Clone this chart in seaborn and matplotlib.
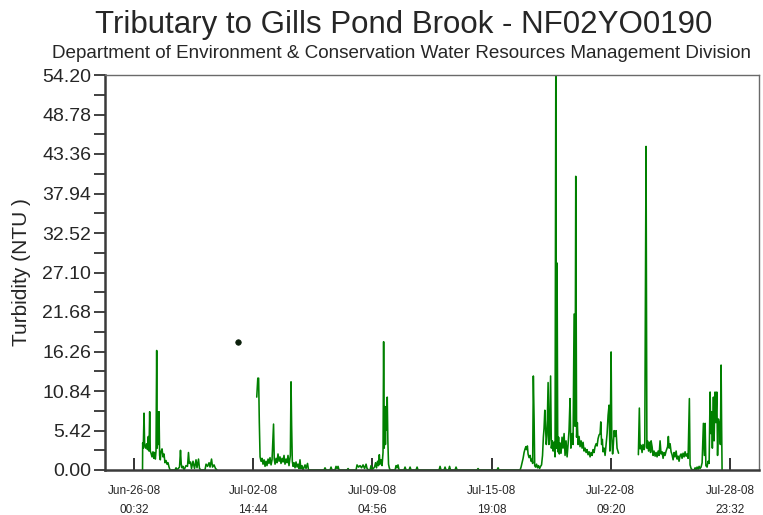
import numpy as np
import pandas as pd
import matplotlib
matplotlib.use("Agg")
import matplotlib.pyplot as plt
import seaborn as sns

# Station NF02YO0190 turbidity log; times are hours after Jun-26-08 00:32
START = pd.Timestamp("2008-06-26 00:32")

# First deployment block (late June)
hours_a = [11.3, 11.5, 12.3, 13.3, 14.1, 15.3, 16.6, 17.9, 19.0, 19.9, 20.8, 21.6,
           22.6, 23.9, 25.2, 26.3, 27.2, 28.3, 29.2, 30.1, 30.8, 31.3, 31.8, 32.3,
           32.8, 33.2, 34.0, 34.9, 35.8, 37.2, 38.5, 39.8, 41.1, 42.5, 43.8, 45.1,
           46.5, 47.8, 54.4, 55.8, 57.1, 60.4, 61.7, 62.7, 63.7, 65.0, 66.4, 69.0,
           71.0, 72.3, 73.4, 75.0, 76.3, 78.3, 80.3, 82.3, 83.6, 85.6, 86.9, 88.9,
           94.2, 95.6, 97.6, 99.6, 100.9, 102.9, 104.2, 106.2, 108.2, 110.2]
ntu_a = [0, 3.7, 3.0, 7.8, 3.4, 3.0, 3.6, 2.8, 4.6, 2.6, 8.0, 2.6,
         2.3, 1.8, 2.5, 1.6, 2.4, 1.5, 2.6, 16.4, 3.0, 8.0, 4.0, 7.6,
         3.5, 8.0, 2.0, 1.4, 2.5, 2.9, 1.8, 2.2, 1.0, 1.3, 0.8, 1.0,
         0.4, 0, 0, 0.3, 0, 0.4, 2.7, 0.8, 0.3, 0.5, 0, 0.6,
         0.5, 2.4, 0.9, 1.1, 0.2, 1.2, 0.2, 1.4, 0.3, 1.5, 0.2, 0,
         0, 0.8, 0.5, 1.0, 0.4, 1.5, 0.4, 0.7, 0.2, 0]

# Single spot reading on Jul-01
hours_spot = [138.4]
ntu_spot = [17.6]

# Main record, Jul-02 to Jul-22
hours_b = [162.9, 164.3, 165.4, 166.3, 167.3, 168.6, 169.9, 171.2, 172.6, 173.9,
           175.2, 176.5, 177.9, 179.2, 180.5, 181.9, 183.2, 184.2, 185.2, 186.1,
           187.2, 188.5, 189.8, 191.1, 192.5, 193.8, 195.1, 196.5, 197.8, 199.1,
           200.4, 201.8, 203.1, 204.4, 205.7, 207.5, 208.4, 209.2, 210.1, 211.1,
           212.4, 213.7, 215.0, 216.4, 217.7, 219.0, 220.3, 221.4, 223.0, 224.3,
           227.0, 228.3, 230.3, 231.6, 233.6, 252.2, 253.5, 254.9, 260.2, 261.5,
           262.8, 266.8, 268.1, 269.5, 270.8, 272.1, 282.7, 284.1, 285.4, 294.7,
           296.0, 298.0, 300.0, 302.0, 304.0, 306.0, 308.0, 309.3, 311.3, 313.3,
           314.6, 315.9, 319.2, 320.6, 321.9, 323.2, 324.5, 325.6, 326.5, 327.9,
           329.2, 330.5, 331.3, 332.1, 332.9, 333.7, 334.5, 335.3, 336.1, 336.9,
           337.8, 338.8, 339.8, 346.5, 347.8, 349.1, 350.4, 351.8, 358.4, 359.7,
           361.1, 365.0, 366.4, 367.7, 374.3, 375.7, 377.0, 404.9, 406.2, 407.5,
           411.5, 412.8, 414.1, 417.5, 418.8, 420.1, 426.1, 427.4, 428.8, 455.3,
           456.6, 458.0, 481.8, 483.2, 484.5, 511.7, 512.4, 513.7, 515.0, 516.4,
           517.7, 519.0, 520.1, 521.0, 522.1, 523.0, 524.3, 525.7, 527.0, 528.3,
           529.1, 530.0, 531.0, 531.8, 533.0, 534.3, 535.6, 536.9, 538.3, 539.6,
           540.9, 542.2, 543.3, 544.2, 545.2, 546.2, 547.2, 548.2, 549.6, 550.6,
           551.5, 552.9, 553.9, 555.3, 556.2, 557.5, 558.8, 559.8, 560.8, 561.5,
           562.4, 563.5, 564.5, 565.5, 566.8, 568.1, 569.4, 570.8, 572.1, 573.4,
           574.8, 576.1, 577.4, 578.7, 579.8, 580.7, 581.8, 582.7, 584.1, 585.4,
           586.3, 587.4, 588.4, 589.4, 590.7, 592.0, 593.4, 594.7, 596.0, 597.3,
           598.7, 600.0, 601.3, 602.6, 604.0, 605.3, 606.6, 608.0, 609.3, 610.6,
           611.9, 613.3, 614.6, 615.9, 617.2, 618.6, 619.5, 620.6, 621.6, 622.5,
           623.9, 625.2, 626.5, 627.9, 629.2, 630.5, 631.6, 632.5, 633.2, 634.1,
           635.2, 636.2, 637.2, 638.5, 639.8, 641.1, 643.1]
ntu_b = [10.0, 12.6, 12.6, 6.6, 1.8, 1.2, 1.6, 0.8, 1.4, 0.5,
         1.2, 0.6, 1.5, 0.9, 1.7, 0.7, 1.4, 4.0, 6.3, 1.5,
         0.8, 1.6, 1.0, 2.2, 1.2, 1.8, 0.9, 1.6, 1.1, 2.0,
         0.8, 1.5, 1.0, 2.0, 0.6, 2.0, 12.1, 6.1, 1.2, 0.5,
         1.0, 0.3, 1.1, 0.4, 0.8, 0.2, 1.4, 0.2, 0.6, 0,
         0.7, 0.2, 0.9, 0, 0, 0, 0.3, 0, 0, 0.4,
         0, 0, 0.5, 0.2, 0.5, 0, 0, 0.2, 0, 0,
         0.7, 0.4, 0.6, 0.3, 0.7, 0.2, 0.8, 0.2, 0, 0,
         0.6, 0, 0.4, 1.0, 0.3, 1.2, 0.6, 2.1, 0.8, 1.4,
         0.6, 2.4, 17.6, 3.0, 8.7, 3.5, 8.7, 5.5, 10.0, 4.0,
         0.8, 0.3, 0, 0, 0.6, 0.3, 0.7, 0, 0, 0.4,
         0, 0, 0.4, 0, 0, 0.4, 0, 0, 0.5, 0,
         0, 0.4, 0, 0, 0.5, 0, 0, 0.4, 0, 0,
         0.2, 0, 0, 0.3, 0, 0, 0, 0.4, 1.0, 1.6,
         2.4, 2.9, 3.2, 2.8, 3.3, 2.2, 1.7, 2.0, 1.2, 1.5,
         0.9, 12.9, 7.0, 0.6, 0.4, 0.8, 0.3, 0.6, 0.2, 0.5,
         0.7, 2.0, 4.5, 5.7, 8.2, 6.0, 3.5, 4.8, 12.0, 3.5,
         4.2, 12.9, 3.0, 4.0, 2.6, 3.8, 1.8, 54.2, 3.0, 28.4,
         2.5, 4.5, 2.2, 3.7, 2.3, 4.5, 3.0, 5.0, 2.0, 4.0,
         1.8, 3.5, 5.5, 9.8, 3.0, 4.5, 5.0, 3.5, 21.4, 6.0,
         40.3, 4.5, 6.5, 3.5, 4.6, 3.2, 4.0, 3.0, 3.8, 2.6,
         3.0, 2.4, 2.8, 2.1, 2.5, 1.8, 2.4, 2.0, 2.8, 2.4,
         3.2, 3.6, 3.3, 4.3, 4.8, 5.0, 6.6, 3.5, 4.2, 2.5,
         3.0, 2.0, 3.5, 5.0, 7.5, 8.9, 2.6, 8.9, 16.2, 4.5,
         2.2, 3.5, 5.4, 4.6, 5.4, 3.0, 2.3]

# Record after the service gap, Jul-23 to Jul-28
hours_c = [669.4, 670.7, 671.7, 673.0, 674.3, 675.6, 677.0, 677.9, 678.7, 679.6,
           680.7, 681.6, 682.9, 684.3, 685.6, 686.3, 687.6, 688.9, 690.2, 691.6,
           692.9, 694.2, 695.6, 696.9, 698.2, 699.5, 700.9, 702.2, 703.5, 704.8,
           706.2, 708.2, 709.2, 710.2, 711.5, 712.8, 714.1, 715.5, 716.8, 718.1,
           719.5, 720.8, 722.1, 723.4, 724.8, 726.1, 727.4, 728.7, 730.1, 731.4,
           732.7, 734.1, 735.4, 737.1, 738.0, 739.4, 741.3, 743.3, 744.7, 746.0,
           747.3, 748.7, 750.0, 751.3, 752.6, 754.0, 755.7, 757.0, 758.0, 759.0,
           760.6, 761.9, 763.3, 764.6, 765.5, 766.6, 767.6, 769.0, 769.9, 771.2,
           772.3, 773.5, 774.5, 775.6, 777.2, 778.2, 779.2, 779.9, 780.5]
ntu_c = [2.1, 8.5, 2.9, 3.4, 2.4, 3.5, 2.8, 3.2, 23.0, 44.4,
         3.0, 4.0, 2.6, 3.8, 2.4, 4.0, 3.2, 2.0, 2.6, 1.9,
         2.4, 1.8, 2.6, 2.0, 4.0, 2.2, 2.5, 1.6, 2.4, 2.0,
         2.6, 3.2, 4.6, 3.0, 3.6, 2.5, 2.1, 1.4, 2.4, 1.8,
         2.6, 1.5, 1.9, 1.2, 2.0, 2.2, 1.6, 2.3, 1.8, 2.5,
         1.9, 2.2, 1.6, 9.8, 0.7, 0.2, 0, 0, 0.3, 0,
         0.4, 0.1, 0.5, 0.2, 0.4, 1.0, 6.4, 2.0, 6.4, 0.6,
         0.4, 1.2, 0.9, 10.7, 5.0, 8.0, 3.0, 10.0, 4.0, 10.7,
         6.5, 10.7, 2.0, 7.0, 6.0, 3.5, 14.4, 6.0, 0]

# Axis scale
Y_MAX = 54.20
Y_STEP = 5.42
TICK_STEP = pd.Timedelta(days=6, hours=14, minutes=12)
N_TICKS = 6

TITLE = "Tributary to Gills Pond Brook - NF02YO0190"
SUBTITLE = "Department of Environment & Conservation Water Resources Management Division"
Y_LABEL = "Turbidity (NTU )"

# ---------------------------------------------------------------------------
frames = []
for seg, (h, v) in enumerate([(hours_a, ntu_a), (hours_b, ntu_b), (hours_c, ntu_c)]):
    frames.append(pd.DataFrame({
        "time": START + pd.to_timedelta(h, unit="h"),
        "ntu": v,
        "segment": seg,
    }))
df = pd.concat(frames, ignore_index=True)
spot = pd.DataFrame({"time": START + pd.to_timedelta(hours_spot, unit="h"),
                     "ntu": ntu_spot})

sns.set_style("ticks")
plt.rcParams["font.family"] = ["Liberation Sans", "DejaVu Sans"]

fig = plt.figure(figsize=(7.63, 5.15), dpi=100)
ax = fig.add_axes([105 / 763, 45 / 515, 654 / 763, 395 / 515])

sns.lineplot(data=df, x="time", y="ntu", units="segment", estimator=None,
             color="#008000", linewidth=1.15, ax=ax, legend=False)
sns.scatterplot(data=spot, x="time", y="ntu", color="#0b1f0b", s=16,
                edgecolor="#0b1f0b", linewidth=0.5, ax=ax, zorder=4, legend=False)

# x axis: six evenly spaced date ticks, drawn inside the frame
tick_times = [START + k * TICK_STEP for k in range(N_TICKS)]
pad = pd.Timedelta(hours=38.5)
ax.set_xlim(tick_times[0] - pad, tick_times[-1] + pad)
ax.set_xticks(tick_times)
ax.set_xticklabels([t.strftime("%b-%d-%y\n%H:%M") for t in tick_times],
                   fontsize=8.5, linespacing=1.75)
ax.tick_params(axis="x", which="major", direction="in", length=9, width=1.3,
               color="#222222", pad=11)
ax.tick_params(axis="x", which="minor", length=0)

# y axis: major every 5.42, minor halfway
yt = np.arange(0, Y_MAX + 0.001, Y_STEP)
ax.set_ylim(0, Y_MAX)
ax.set_yticks(yt)
ax.set_yticklabels([f"{v:.2f}" for v in yt], fontsize=14)
ax.set_yticks(np.arange(Y_STEP / 2, Y_MAX, Y_STEP), minor=True)
ax.tick_params(axis="y", which="both", direction="out", length=8, width=1.3,
               color="#333333", pad=2)

ax.set_xlabel("")
ax.set_ylabel("")

for side in ("left", "bottom"):
    ax.spines[side].set_linewidth(1.8)
    ax.spines[side].set_color("#3a3a3a")
for side in ("top", "right"):
    ax.spines[side].set_linewidth(1.0)
    ax.spines[side].set_color("#6a6a6a")
    ax.spines[side].set_visible(True)

fig.text(404 / 763, 1 - 33 / 515, TITLE, ha="center", va="baseline", fontsize=22.5)
fig.text(401 / 763, 1 - 58 / 515, SUBTITLE, ha="center", va="baseline", fontsize=13.6)
fig.text(22 / 763, 1 - 272 / 515, Y_LABEL, ha="center", va="center",
         rotation=90, fontsize=15)

fig.savefig("out.png", dpi=100)
